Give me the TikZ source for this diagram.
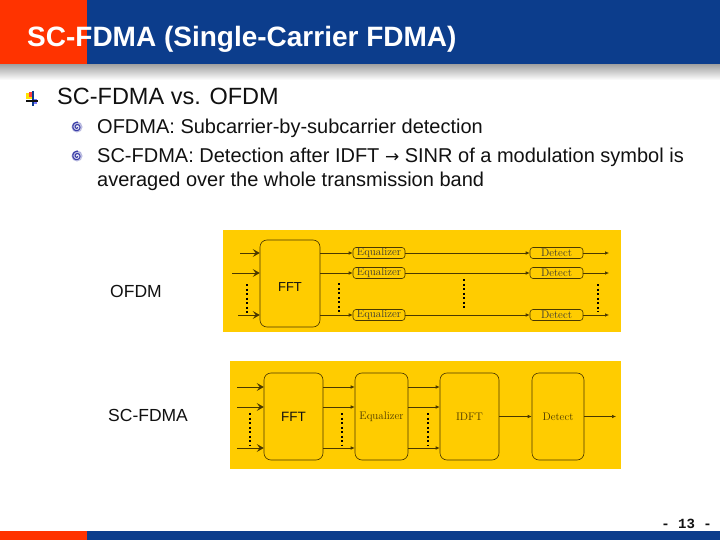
\documentclass[tikz,border=0pt]{standalone}
\usepackage{fontspec}
\usetikzlibrary{arrows.meta}
\newfontfamily\arialfont{Liberation Sans}
\newfontfamily\pagefont{Liberation Mono}
\definecolor{title-blue}{HTML}{0C3D8C}
\definecolor{title-red}{HTML}{FF3300}
\definecolor{panel-yellow}{HTML}{FFCC00}
\definecolor{ink}{HTML}{4A3800}
\definecolor{jet}{HTML}{111111}
\definecolor{spiral-blue}{HTML}{3C3FA8}

\begin{document}
\begin{tikzpicture}[x=1pt,y=-1pt,every node/.style={inner sep=0pt},
  blockbox/.style={draw=ink, line width=0.6pt, rounded corners=7pt, font=\fontsize{11}{11}\selectfont, text=ink},
  slimbox/.style={draw=ink, line width=0.6pt, rounded corners=3pt, minimum width=52pt, minimum height=11pt, font=\fontsize{11}{11}\selectfont, text=jet!85},
  inarrow/.style={draw=ink, line width=0.6pt, -{Stealth[length=7pt,width=8pt,inset=3pt]}},
  smallarrow/.style={draw=ink, line width=0.6pt, -{Latex[length=4pt,width=3.5pt]}},
  dotline/.style={line width=2pt, dash pattern=on 2pt off 2.5pt, draw=black}]
  \useasboundingbox (0,0) rectangle (720,540);
  \fill[white] (0,0) rectangle (720,540);

  % title bar
  \fill[title-blue] (0,0) rectangle (720,65);
  \fill[title-red] (0,0) rectangle (87,65);
  \shade[top color=black!35, bottom color=white] (0,65) rectangle (720,80);
  \node[anchor=base west, text=white, font=\arialfont\bfseries\fontsize{28}{30}\selectfont] (title) at (27,47) {SC-FDMA (Single-Carrier FDMA)};

  % bullets
  \fill[yellow!85!orange] (26,93) rectangle (32,99);
  \fill[red!75] (29,92) rectangle (33,97);
  \fill[blue!55] (33,99) rectangle (37,104);
  \draw[title-blue, line width=1.5pt] (33,91) -- (33,106);
  \draw[jet, line width=1.2pt] (26,101) -- (38,101);
  \node[anchor=base west, text=jet, font=\arialfont\fontsize{23.5}{26}\selectfont] (lvl1) at (57,105) {SC-FDMA vs. OFDM};
  \foreach \yy in {127,156} {
    \shade[inner color=white, outer color=spiral-blue!45] (77,\yy) circle (5.5);
    \draw[spiral-blue, line width=1.1pt, domain=0:640, samples=50, variable=\t]
      plot ({77+(0.6+\t/640*4.2)*cos(\t)}, {\yy+(0.6+\t/640*4.2)*sin(\t)});
  }
  \node[anchor=base west, text=jet, font=\arialfont\fontsize{20}{24}\selectfont] (lvl2a) at (97,134) {OFDMA: Subcarrier-by-subcarrier detection};
  \node[anchor=base west, text=jet, font=\arialfont\fontsize{20}{24}\selectfont] (lvl2b) at (97,163) {SC-FDMA: Detection after IDFT {\fontspec{DejaVu Sans}\fontsize{17}{20}\selectfont→} SINR of a modulation symbol is};
  \node[anchor=base west, text=jet, font=\arialfont\fontsize{20}{24}\selectfont] (lvl2c) at (97,187) {averaged over the whole transmission band};

  % side labels
  \node[anchor=base west, text=jet, font=\arialfont\fontsize{17.5}{20}\selectfont] (ofdmlabel) at (110,297.5) {OFDM};
  \node[anchor=base west, text=jet, font=\arialfont\fontsize{17.5}{20}\selectfont] (scfdmalabel) at (108,421) {SC-FDMA};

  % OFDM receiver
  \fill[panel-yellow] (223,230) rectangle (621,332);
  \node[blockbox, minimum width=60pt, minimum height=87pt, font=\arialfont\fontsize{13}{13}\selectfont, text=jet] (fft1) at (290,283.5) {\raisebox{-7.5pt}[0pt][0pt]{FFT}};
  \node[slimbox] (eq1a) at (379,253) {Equalizer};
  \node[slimbox] (eq1b) at (379,273) {Equalizer};
  \node[slimbox] (eq1c) at (379,315) {Equalizer};
  \node[slimbox, minimum width=53pt] (det1a) at (556.5,253) {Detect};
  \node[slimbox, minimum width=53pt] (det1b) at (556.5,273) {Detect};
  \node[slimbox, minimum width=53pt] (det1c) at (556.5,315) {Detect};
  \coordinate (in1a) at (240,253);
  \coordinate (in1b) at (232,273);
  \coordinate (in1c) at (238,315);
  \coordinate (out1a) at (609,253);
  \coordinate (out1b) at (609,273);
  \coordinate (out1c) at (609,315);
  \foreach \r in {a,b,c} {
    \draw[inarrow] (in1\r) -- (in1\r -| fft1.west);
    \draw[smallarrow] (fft1.east |- eq1\r) -- (eq1\r.west);
    \draw[smallarrow] (eq1\r.east) -- (det1\r.west);
    \draw[smallarrow] (det1\r.east) -- (out1\r);
  }
  \draw[dotline] (247,284) -- (247,313);
  \draw[dotline] (339,283) -- (339,312);
  \draw[dotline] (464,279) -- (464,310);
  \draw[dotline] (598,284) -- (598,312);

  % SC-FDMA receiver
  \fill[panel-yellow] (230,361) rectangle (621,469);
  \node[blockbox, minimum width=59pt, minimum height=87pt, font=\arialfont\fontsize{13.5}{13.5}\selectfont, text=jet] (fft2) at (293.5,416.5) {FFT};
  \node[blockbox, minimum width=53pt, minimum height=87pt] (eq2) at (381.5,416.5) {Equalizer};
  \node[blockbox, minimum width=59pt, minimum height=87pt] (idft2) at (469.5,416.5) {IDFT};
  \node[blockbox, minimum width=52pt, minimum height=87pt] (det2) at (558,416.5) {Detect};
  \coordinate (in2a) at (237,387);
  \coordinate (in2b) at (237,407);
  \coordinate (in2c) at (237,448);
  \coordinate (out2) at (616,416.5);
  \foreach \r in {a,b,c} {
    \draw[inarrow] (in2\r) -- (in2\r -| fft2.west);
    \draw[smallarrow] (fft2.east |- in2\r) -- (eq2.west |- in2\r);
    \draw[smallarrow] (eq2.east |- in2\r) -- (idft2.west |- in2\r);
  }
  \draw[smallarrow] (idft2) -- (det2);
  \draw[smallarrow] (det2) -- (out2);
  \draw[dotline] (250,413) -- (250,445);
  \draw[dotline] (342,413) -- (342,445);
  \draw[dotline] (428,413) -- (428,445);

  % footer
  \fill[title-blue] (0,531) rectangle (720,540);
  \fill[title-red] (0,531) rectangle (87,540);
  \node[anchor=base east, text=jet, font=\pagefont\bfseries\fontsize{14}{14}\selectfont] (pagenum) at (712,528) {- 13 -};
\end{tikzpicture}
\end{document}
